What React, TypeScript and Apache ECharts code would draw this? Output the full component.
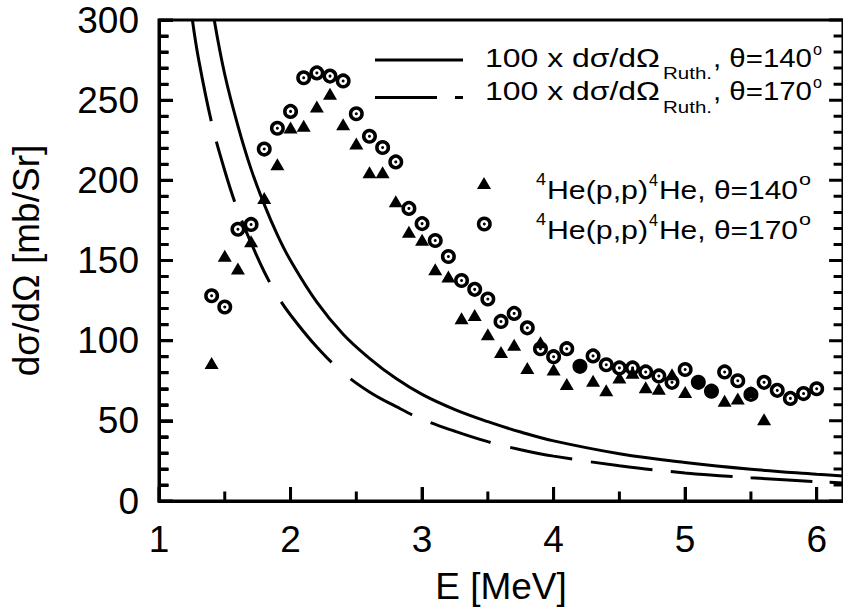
import React, { useEffect, useRef } from 'react';
import * as echarts from 'echarts';

const FONT = 'Liberation Sans, Arial, Helvetica, sans-serif';

// axis ticks
const xMajorTicks = [1, 2, 3, 4, 5, 6];
const xMinorTicks = [1.5, 2.5, 3.5, 4.5, 5.5];
const yMajorTicks = [0, 50, 100, 150, 200, 250, 300];
const yMinorTicks = [10, 20, 30, 40, 60, 70, 80, 90, 110, 120, 130, 140, 160, 170, 180, 190, 210, 220, 230, 240, 260, 270, 280, 290];

// 4He(p,p)4He, theta = 140 deg (triangles)
const triE = [1.4, 1.5, 1.6, 1.7, 1.8, 1.9, 2.0, 2.1, 2.2, 2.3, 2.4, 2.5, 2.6, 2.7, 2.8, 2.9, 3.0, 3.1, 3.2, 3.3, 3.4, 3.5, 3.6, 3.7, 3.8, 3.9, 4.0, 4.1, 4.3, 4.4, 4.5, 4.6, 4.7, 4.8, 4.9, 5.0, 5.3, 5.4, 5.5, 5.6];
const triV = [86, 153, 145, 162, 189, 210, 233, 234, 246, 254, 235, 223, 205, 205, 187, 168, 163, 144.5, 140, 114, 116, 104, 93, 97.5, 83, 99, 82, 73, 75, 69, 77, 80, 71, 70, 79, 68, 62.5, 64, 68, 51];

// 4He(p,p)4He, theta = 170 deg (dotted rings)
const ringE = [1.4, 1.5, 1.6, 1.7, 1.8, 1.9, 2.0, 2.1, 2.2, 2.3, 2.4, 2.5, 2.6, 2.7, 2.8, 2.9, 3.0, 3.1, 3.2, 3.3, 3.4, 3.5, 3.6, 3.7, 3.8, 3.9, 4.0, 4.1, 4.2, 4.3, 4.4, 4.5, 4.6, 4.7, 4.8, 4.9, 5.0, 5.1, 5.2, 5.3, 5.4, 5.5, 5.6, 5.7, 5.8, 5.9, 6.0];
const ringV = [128, 121, 169.5, 172.5, 219.5, 232.5, 243, 264, 267, 265, 262, 241.5, 227.5, 220.5, 211.5, 182.5, 173, 162.5, 152.5, 137.5, 132, 126, 112, 117, 108, 95, 90, 95, 84, 90.5, 85, 83, 83, 80.5, 78, 74, 82, 74, 68.5, 80.5, 75, 66.5, 74, 69, 64, 67, 70];
const ringFilledE = [4.2, 5.1, 5.2];

// 100 x Rutherford, theta = 140 deg (solid)
const ruth140E = [1.42, 1.5, 1.6, 1.7, 1.8, 1.9, 2.0, 2.2, 2.4, 2.6, 2.8, 3.0, 3.25, 3.5, 3.75, 4.0, 4.5, 5.0, 5.5, 6.0, 6.2];
const ruth140V = [300, 266, 234, 207, 185, 166, 150, 124, 104, 89, 76.5, 66.5, 57, 49.5, 43, 37.5, 29.5, 24, 19.8, 16.7, 15.6];

// 100 x Rutherford, theta = 170 deg (dashed)
const ruth170E = [1.254, 1.3, 1.4, 1.5, 1.6, 1.7, 1.8, 1.9, 2.0, 2.2, 2.4, 2.6, 2.8, 3.0, 3.25, 3.5, 3.75, 4.0, 4.5, 5.0, 5.5, 6.0, 6.2];
const ruth170V = [300, 276, 236, 206, 181, 161, 143, 128, 116, 96, 80, 68, 59, 51, 43.5, 37, 32, 28, 22, 17.5, 14.5, 12, 11.3];

const ruthDash = [103, 21, 63, 20, 67.5, 23, 79, 25, 71.5, 20, 63, 20.5, 63, 19, 62, 18.5, 62, 18, 62, 17, 3000];

const X_MIN = 1;
const X_MAX = 6.2;
const Y_MIN = 0;
const Y_MAX = 300;

const W = 843;
const H = 610;
const GRID = { left: 158, right: -4, top: 20, bottom: 107.5 };
const MAJOR_LEN = 14;
const MINOR_LEN = 9.5;

const zip = (a: number[], b: number[]) => a.map((v, i) => [v, b[i]]);

export default function App() {
  const ref = useRef<HTMLDivElement>(null);
  useEffect(() => {
    if (!ref.current) return;
    document.body.style.margin = '0';
    const chart = echarts.init(ref.current, null, { renderer: 'svg' });
    const ctx = document.createElement('canvas').getContext('2d') as CanvasRenderingContext2D;
    const fit = (text: string, size: number, x0: number, x1: number, cy: number) => {
      ctx.font = `${size}px ${FONT}`;
      const w = ctx.measureText(text).width || 1;
      return {
        type: 'text', x: x0, y: cy, scaleX: (x1 - x0) / w, silent: true, z: 100,
        style: { text, fontSize: size, fontFamily: FONT, fill: '#000', align: 'left', verticalAlign: 'middle', textAlign: 'left', textVerticalAlign: 'middle' },
      };
    };
    const black = '#000';
    const legendItems: any[] = [
      { type: 'line', shape: { x1: 375, y1: 60, x2: 463, y2: 60 }, style: { stroke: black, lineWidth: 3 }, silent: true },
      { type: 'line', shape: { x1: 375, y1: 97.5, x2: 437, y2: 97.5 }, style: { stroke: black, lineWidth: 3 }, silent: true },
      { type: 'line', shape: { x1: 455, y1: 97.5, x2: 463, y2: 97.5 }, style: { stroke: black, lineWidth: 3 }, silent: true },
      fit('100 x dσ/dΩ', 25, 485, 660, 58),
      fit('Ruth.', 16, 663, 712, 73),
      fit(', θ=140', 25, 713, 812, 58),
      fit('o', 16, 813, 822, 49),
      fit('100 x dσ/dΩ', 25, 485, 660, 91.5),
      fit('Ruth.', 16, 663, 712, 107),
      fit(', θ=170', 25, 713, 812, 91.5),
      fit('o', 16, 813, 822, 82.5),
      { type: 'polygon', shape: { points: [[477, 189], [491, 189], [484, 177]] }, style: { fill: black }, silent: true },
      fit('4', 16, 536, 546, 180),
      fit('He(p,p)', 25, 547, 648, 190),
      fit('4', 16, 649, 658, 180),
      fit('He, θ=140', 25, 659, 798, 190),
      fit('o', 16, 799, 811, 180),
      { type: 'circle', shape: { cx: 484.3, cy: 224, r: 5.75 }, style: { fill: '#fff', stroke: black, lineWidth: 3.5 }, silent: true },
      { type: 'circle', shape: { cx: 484.3, cy: 224, r: 1.5 }, style: { fill: black }, silent: true },
      fit('4', 16, 536, 546, 220),
      fit('He(p,p)', 25, 547, 648, 230),
      fit('4', 16, 649, 658, 220),
      fit('He, θ=170', 25, 659, 798, 230),
      fit('o', 16, 799, 811, 220),
    ];

    // tick marks as short line segments in data space (lengths converted from pixels)
    const gw = W - GRID.left - GRID.right;
    const gh = H - GRID.top - GRID.bottom;
    const dxPerPx = (X_MAX - X_MIN) / gw;
    const dyPerPx = (Y_MAX - Y_MIN) / gh;
    const gap = ['-', '-'];
    const tickData: any[] = [];
    xMajorTicks.forEach((v) => tickData.push([v, Y_MIN], [v, Y_MIN + MAJOR_LEN * dyPerPx], gap));
    xMinorTicks.forEach((v) => tickData.push([v, Y_MIN], [v, Y_MIN + MINOR_LEN * dyPerPx], gap));
    yMajorTicks.forEach((v) => tickData.push([X_MIN, v], [X_MIN + MAJOR_LEN * dxPerPx, v], gap));
    yMinorTicks.forEach((v) => tickData.push([X_MIN, v], [X_MIN + MINOR_LEN * dxPerPx, v], gap));
    yMajorTicks.forEach((v) => tickData.push([X_MAX, v], [X_MAX - MAJOR_LEN * dxPerPx, v], gap));
    yMinorTicks.forEach((v) => tickData.push([X_MAX, v], [X_MAX - MINOR_LEN * dxPerPx, v], gap));

    const axisLine = { show: true, lineStyle: { color: black, width: 3 } };
    const labelStyle = { fontSize: 37, fontFamily: FONT, color: black };
    const tickStyle = { color: black, width: 3 };

    const option: any = {
      animation: false,
      backgroundColor: '#fff',
      grid: {
        ...GRID, containLabel: false,
        show: true, borderColor: black, borderWidth: 3, backgroundColor: 'transparent',
      },
      xAxis: {
        type: 'value', min: X_MIN, max: X_MAX, interval: 1, position: 'bottom',
        axisLine,
        axisTick: { show: true, inside: true, length: MAJOR_LEN, lineStyle: tickStyle, customValues: xMajorTicks },
        axisLabel: { ...labelStyle, margin: 20, customValues: xMajorTicks },
        splitLine: { show: false },
        name: 'E [MeV]', nameLocation: 'middle', nameGap: 67,
        nameTextStyle: labelStyle,
      },
      yAxis: {
        type: 'value', min: Y_MIN, max: Y_MAX, interval: 50, position: 'left',
        axisLine,
        axisTick: { show: true, inside: true, length: MAJOR_LEN, lineStyle: tickStyle },
        minorTick: { show: true, splitNumber: 5, length: MINOR_LEN, lineStyle: tickStyle },
        axisLabel: { ...labelStyle, margin: 20 },
        splitLine: { show: false },
        name: 'dσ/dΩ [mb/Sr]', nameLocation: 'middle', nameGap: 114,
        nameTextStyle: labelStyle,
      },
      series: [
        {
          name: 'ticks', type: 'line', data: tickData,
          showSymbol: false, symbol: 'none', smooth: false, connectNulls: false, clip: false, silent: true,
          lineStyle: { color: black, width: 3, cap: 'butt' }, z: 6,
        },
        {
          name: '100 x dσ/dΩ Ruth., θ=140', type: 'line', data: zip(ruth140E, ruth140V),
          showSymbol: false, symbol: 'none', smooth: 0.4, clip: true, silent: true,
          lineStyle: { color: black, width: 3 }, z: 2,
        },
        {
          name: '100 x dσ/dΩ Ruth., θ=170', type: 'line', data: zip(ruth170E, ruth170V),
          showSymbol: false, symbol: 'none', smooth: 0.4, clip: true, silent: true,
          lineStyle: { color: black, width: 3, type: ruthDash, cap: 'butt' }, z: 2,
        },
        {
          name: '4He(p,p)4He, θ=170', type: 'scatter', silent: true, z: 3,
          symbol: 'circle', symbolSize: 11.5,
          itemStyle: { color: '#fff', borderColor: black, borderWidth: 3.5, opacity: 1 },
          data: ringE.map((e, i) => ringFilledE.includes(e)
            ? { value: [e, ringV[i]], itemStyle: { color: black } }
            : [e, ringV[i]]),
        },
        {
          name: 'ring dots', type: 'scatter', silent: true, z: 4,
          symbol: 'circle', symbolSize: 3,
          itemStyle: { color: black, opacity: 1 },
          data: zip(ringE, ringV),
        },
        {
          name: '4He(p,p)4He, θ=140', type: 'scatter', silent: true, z: 5,
          symbol: 'triangle', symbolSize: [14, 12],
          itemStyle: { color: black, opacity: 1 },
          data: zip(triE, triV),
        },
      ],
      graphic: legendItems,
    };
    chart.setOption(option);
    return () => chart.dispose();
  }, []);
  return <div ref={ref} style={{ position: 'fixed', left: 0, top: 0, width: W, height: H, background: '#fff' }} />;
}
